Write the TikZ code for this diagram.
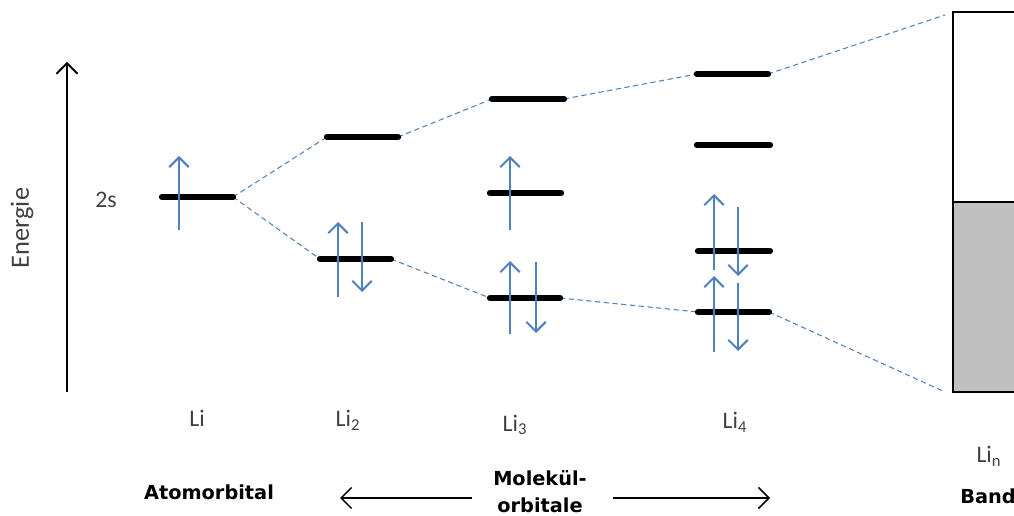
\documentclass[tikz,border=0pt]{standalone}
\usepackage{fontspec}
\setmainfont{Carlito}
\newfontfamily\boldlab{DejaVu Sans}
\usetikzlibrary{arrows.meta}
\definecolor{spinblue}{HTML}{4F81BD}
\definecolor{bandgray}{HTML}{C0C0C0}
\begin{document}
\begin{tikzpicture}[x=0.02cm,y=-0.02cm,
  level/.style={line width=3.6pt, line cap=round},
  spin/.style={draw=spinblue, line width=1.2pt, -{Straight Barb[length=5.5pt,width=11pt,line width=1.2pt]}},
  conn/.style={draw=spinblue, line width=0.6pt, dash pattern=on 3pt off 2pt},
  lab/.style={font=\fontsize{13.5}{16}\selectfont, text=black!75, inner sep=0pt},
  blab/.style={font=\boldlab\bfseries\fontsize{11}{15.3}\selectfont, inner sep=0pt, align=center},
  axis/.style={line width=1.1pt, -{Straight Barb[length=6pt,width=12pt,line width=1.1pt]}},
  barrow/.style={line width=0.9pt, -{Straight Barb[length=6pt,width=12pt,line width=0.9pt]}}]
\useasboundingbox (0,0) rectangle (1014,516);
\clip (0,0) rectangle (1014,516);

% energy axis
\coordinate (ax0) at (67,392);
\coordinate (ax1) at (67,62);
\draw[axis] (ax0) -- (ax1);
\node[lab, rotate=90, font=\fontsize{15}{18}\selectfont] (energie) at (22,228) {Energie};
\node[lab] (twos) at (106,200) {2s};

% levels: coordinates (L = left end, R = right end)
\coordinate (aL) at (162,197); \coordinate (aR) at (233,197);
\coordinate (b1L) at (327,137); \coordinate (b1R) at (398,137);
\coordinate (b0L) at (320,259); \coordinate (b0R) at (391,259);
\coordinate (c2L) at (492,99); \coordinate (c2R) at (564,99);
\coordinate (c1L) at (490,193); \coordinate (c1R) at (561,193);
\coordinate (c0L) at (490,298); \coordinate (c0R) at (560,298);
\coordinate (d3L) at (697,74); \coordinate (d3R) at (768,74);
\coordinate (d2L) at (697,145); \coordinate (d2R) at (770,145);
\coordinate (d1L) at (698,251); \coordinate (d1R) at (770,251);
\coordinate (d0L) at (698,312); \coordinate (d0R) at (769,312);
\coordinate (bandTL) at (953,12);
\coordinate (bandBL) at (953,392);
\coordinate (bandTe) at (945,15);
\coordinate (bandBe) at (945,392);

% dashed correlation lines
\draw[conn] (aR) -- (b1L);
\draw[conn] (aR) -- (b0L);
\draw[conn] (b1R) -- (c2L);
\draw[conn] (b0R) -- (c0L);
\draw[conn] (c2R) -- (d3L);
\draw[conn] (c0R) -- (d0L);
\draw[conn] (d3R) -- (bandTe);
\draw[conn] (d0R) -- (bandBe);

% band
\fill[bandgray] (953,202) rectangle (1030,392);
\draw[line width=1.4pt] (1030,12) -- (bandTL) -- (bandBL) -- (1030,392);
\draw[line width=1.1pt] (953,202) -- (1030,202);

% levels
\foreach \n in {a,b1,b0,c2,c1,c0,d3,d2,d1,d0}{\draw[level] (\n L) -- (\n R);}

% spins
\draw[spin] (179,230) -- (179,156);
\draw[spin] (338,297) -- (338,222);
\draw[spin] (362,222) -- (362,292);
\draw[spin] (510,230) -- (510,156);
\draw[spin] (510,334) -- (510,261);
\draw[spin] (536,262) -- (536,333);
\draw[spin] (714,270) -- (714,194);
\draw[spin] (738,207) -- (738,276);
\draw[spin] (714,352) -- (714,276);
\draw[spin] (738,283) -- (738,351);

% labels
\node[lab] (li1) at (197,418) {Li};
\node[lab] (li2) at (348,420) {Li\textsubscript{2}};
\node[lab] (li3) at (515,425) {Li\textsubscript{3}};
\node[lab] (li4) at (735,422) {Li\textsubscript{4}};
\node[lab] (lin) at (989,456) {Li\textsubscript{n}};

\node[blab] (atom) at (209,492) {Atomorbital};
\node[blab] (mol) at (540,492) {Molekül-\\orbitale};
\node[blab, anchor=west] (band) at (960,496) {Band};
\coordinate (la) at (472,498); \coordinate (lb) at (340,498);
\coordinate (ra) at (613,498); \coordinate (rb) at (770,498);
\draw[barrow] (la) -- (lb);
\draw[barrow] (ra) -- (rb);
\end{tikzpicture}
\end{document}
